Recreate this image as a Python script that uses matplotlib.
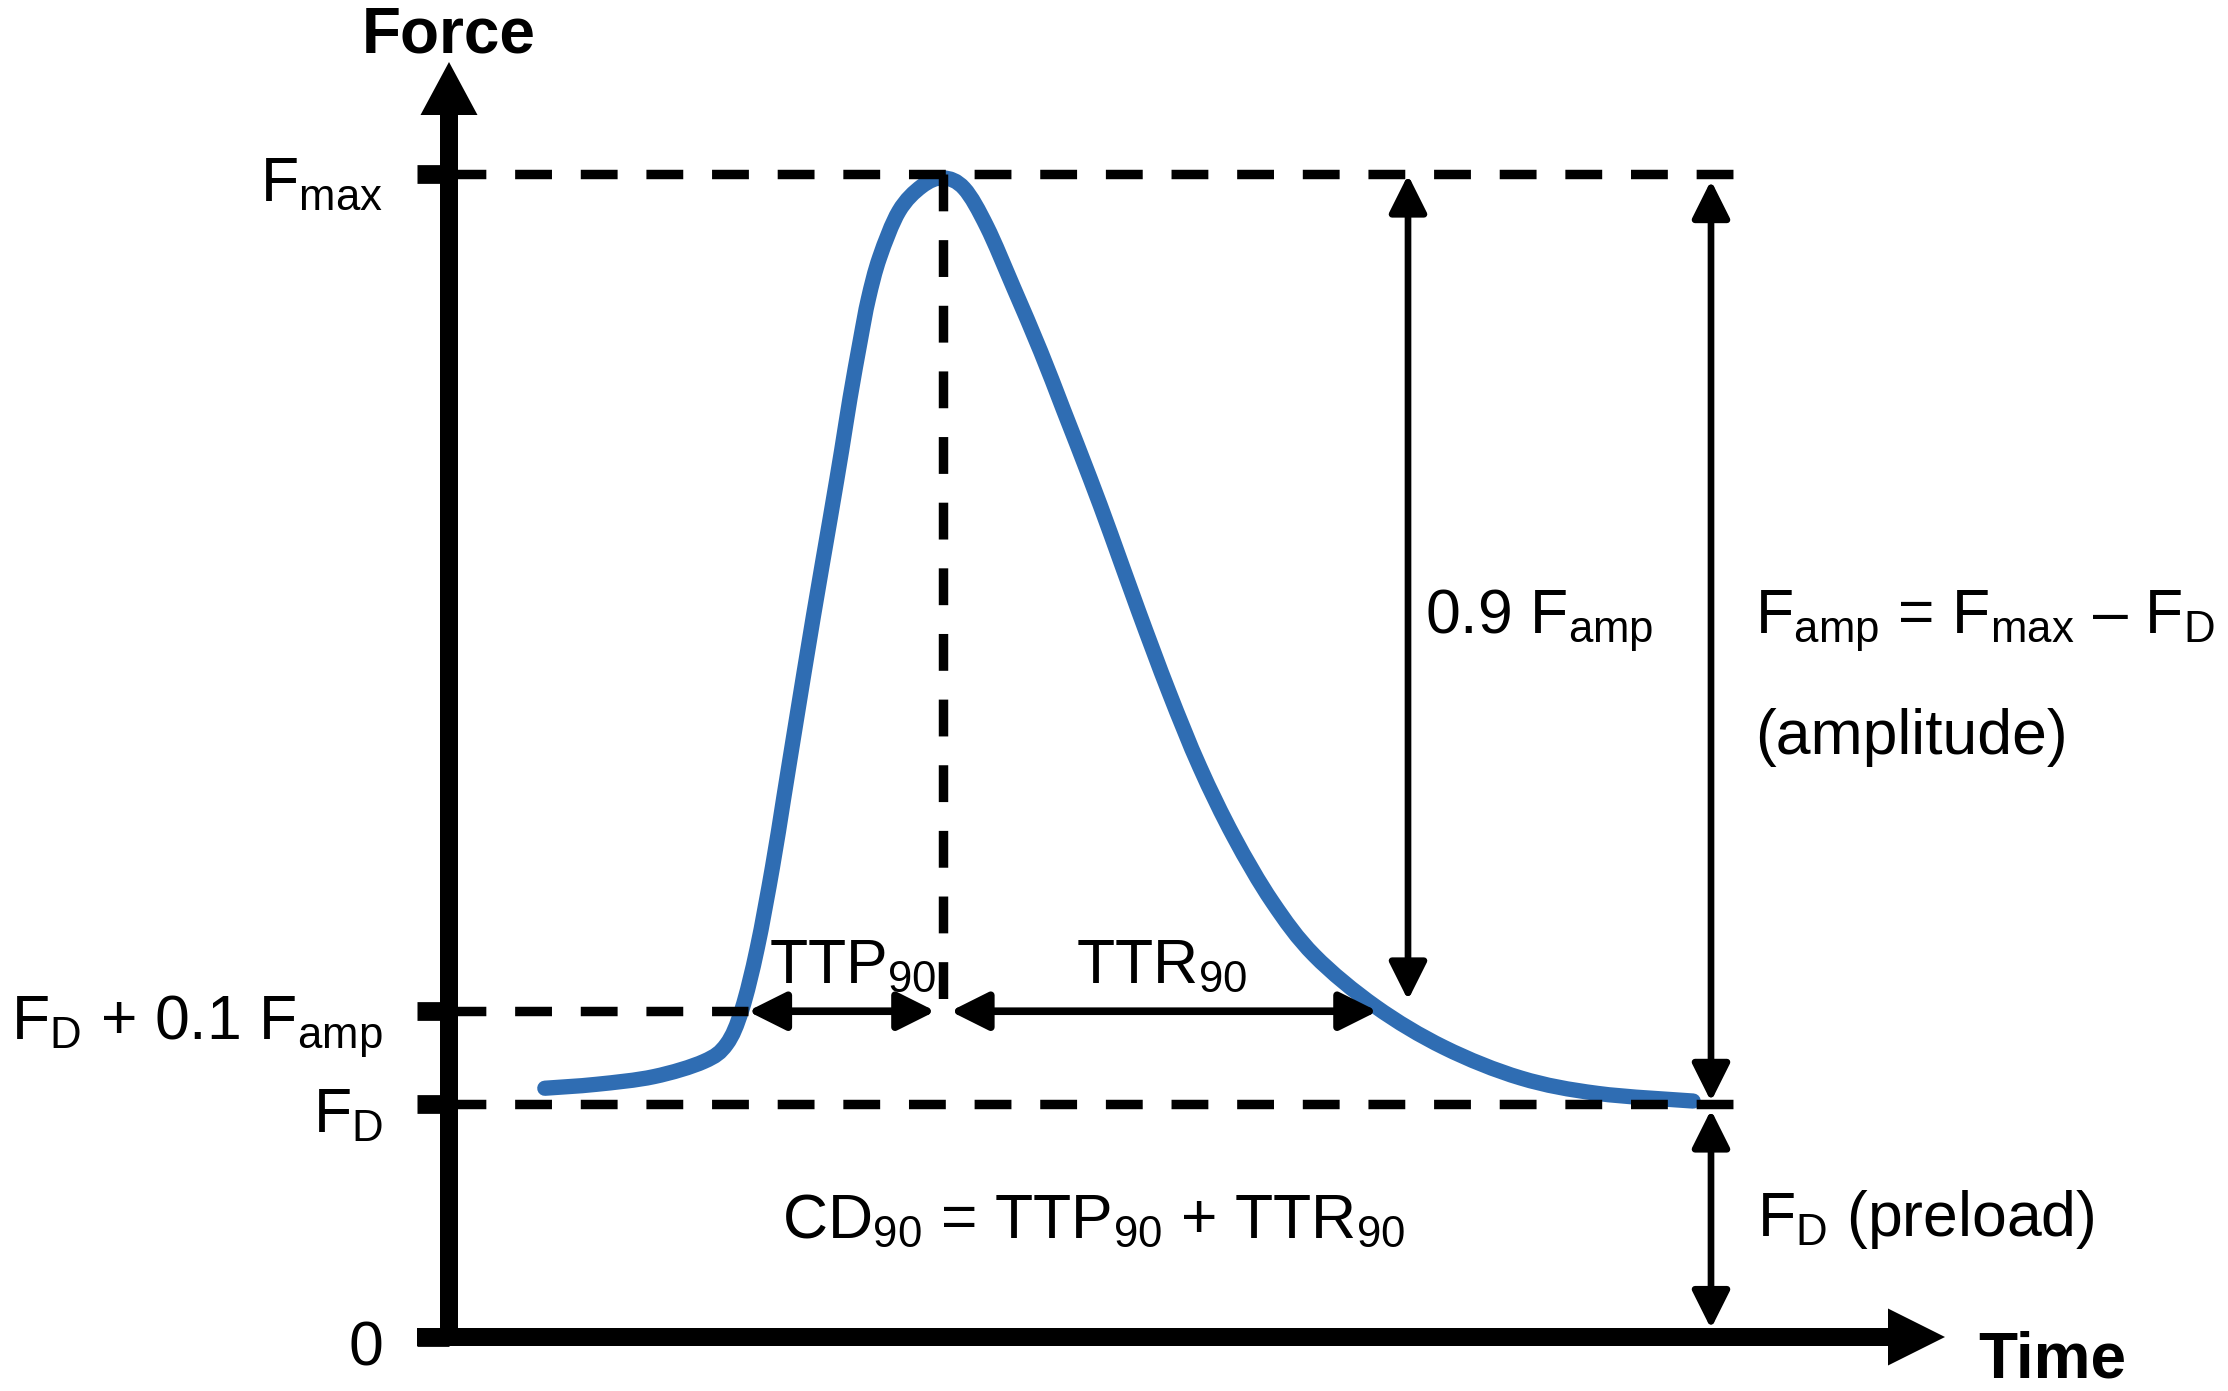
import matplotlib.pyplot as plt
from matplotlib.path import Path
from matplotlib.patches import PathPatch

plt.rcParams['font.family'] = ['Liberation Sans', 'DejaVu Sans']
plt.rcParams['mathtext.fontset'] = 'custom'
plt.rcParams['mathtext.rm'] = 'Liberation Sans'
plt.rcParams['mathtext.default'] = 'regular'

# Twitch trace (time in arbitrary units, force in units of F_D)
time = [1.94, 2.99, 4.15, 5.16, 5.62, 5.93, 6.24, 6.55, 6.78, 7.02, 7.38,
        7.72, 7.95, 8.12, 8.33, 8.49, 8.72, 9.11, 9.57, 10.00,
        10.43, 10.89, 11.43, 11.98, 12.44, 12.98, 13.40, 13.96, 14.58, 15.20,
        15.89, 16.67, 17.52, 18.76, 20.15, 21.70, 23.25, 25.19]
force = [1.069, 1.086, 1.119, 1.184, 1.258, 1.407, 1.670, 2.020, 2.320, 2.635, 3.100,
         3.520, 3.810, 4.035, 4.285, 4.460, 4.640, 4.838, 4.945, 4.981,
         4.936, 4.772, 4.510, 4.235, 3.985, 3.690, 3.450, 3.120, 2.770, 2.450,
         2.150, 1.870, 1.640, 1.420, 1.244, 1.113, 1.047, 1.014]

# characteristic levels and times
F_D = 1.0
F_max = 5.0
F_amp = F_max - F_D
F_10 = F_D + 0.1 * F_amp
t_10 = 6.05
t_peak = 10.0
t_90 = 18.8

level_values = [0, F_D, F_10, F_max]
level_labels = ['0', 'F$_{D}$', 'F$_{D}$ + 0.1 F$_{amp}$', 'F$_{max}$']

# ---- figure geometry (pixels) ----
W, H = 2228, 1391
X0, Y0 = 449, 1337          # where t=0 / F=0 sit in the picture
PX_T, PX_F = 49.39, 232.7   # pixels per time unit / per force unit

def dx(px):
    return px / PX_T

def dy(px):
    return px / PX_F

fig = plt.figure(figsize=(W / 100, H / 100), dpi=100)
ax = fig.add_axes([0, 0, 1, 1])
ax.set_xlim(-X0 / PX_T, (W - X0) / PX_T)
ax.set_ylim((Y0 - H) / PX_F, Y0 / PX_F)
ax.axis('off')

FS = 45
blue = '#2f6db3'

# trace, drawn as a smooth curve through the read points (Catmull-Rom -> Bezier)
pts = list(zip(time, force))
verts = [pts[0]]
codes = [Path.MOVETO]
for i in range(len(pts) - 1):
    p0 = pts[i - 1] if i > 0 else pts[i]
    p1 = pts[i]
    p2 = pts[i + 1]
    p3 = pts[i + 2] if i + 2 < len(pts) else pts[i + 1]
    c1 = (p1[0] + (p2[0] - p0[0]) / 6, p1[1] + (p2[1] - p0[1]) / 6)
    c2 = (p2[0] - (p3[0] - p1[0]) / 6, p2[1] - (p3[1] - p1[1]) / 6)
    verts += [c1, c2, p2]
    codes += [Path.CURVE4] * 3
ax.add_patch(PathPatch(Path(verts, codes), fill=False, edgecolor=blue, lw=11,
                       capstyle='round', joinstyle='round', zorder=2))

# dashed guide lines
dash = dict(color='black', lw=6.8, linestyle=(0, (3.9, 3.05)), zorder=3)
t_end = dx(1750 - X0)
ax.plot([0, t_end], [F_max, F_max], **dash)
ax.plot([0, t_end], [F_D, F_D], **dash)
ax.plot([0, t_10], [F_10, F_10], **dash)
ax.plot([t_peak, t_peak], [F_max, F_10], **dash)

# axes with arrow heads
ax.arrow(0, -dy(9), 0, dy(Y0 - 62) + dy(9), width=dx(18), head_width=dx(57), head_length=dy(53),
         length_includes_head=True, lw=0, color='black', zorder=4)
ax.arrow(-dx(32), 0, dx(1945 - X0) + dx(32), 0, width=dy(18), head_width=dy(57), head_length=dx(57),
         length_includes_head=True, lw=0, color='black', zorder=4)

# tick stubs and labels
for val, lab in zip(level_values, level_labels):
    ax.plot([-dx(32), 0], [val, val], color='black', lw=13.5, solid_capstyle='butt', zorder=4)
    ax.text(-dx(66), val - dy(28), lab, fontsize=FS, ha='right', va='baseline')

ax.text(0, dy(Y0 - 52), 'Force', fontsize=46, fontweight='bold', ha='center', va='baseline')
ax.text(dx(1978 - X0), -dy(41), 'Time', fontsize=46, fontweight='bold', ha='left', va='baseline')

# measurement arrows
def dbl_arrow(x0, y0, x1, y1, lw=4.8, sA=0, sB=0):
    ax.annotate('', xy=(x1, y1), xytext=(x0, y0),
                arrowprops=dict(arrowstyle='<|-|>,head_length=23,head_width=11.5', mutation_scale=1,
                                lw=lw, color='black', shrinkA=sA, shrinkB=sB), zorder=5)

gap = 0.15
dbl_arrow(t_10, F_10, t_peak - gap, F_10, lw=5.5)
dbl_arrow(t_peak + gap, F_10, t_90, F_10, lw=5.5)

t_09 = dx(1408 - X0)
t_amp = dx(1711 - X0)
dbl_arrow(t_09, F_max, t_09, F_10, sA=1, sB=8)
dbl_arrow(t_amp, F_max, t_amp, F_D, sA=5, sB=2)
dbl_arrow(t_amp, F_D, t_amp, 0, sA=4, sB=6)

# annotations
ax.text(dx(769 - X0), dy(Y0 - 983), 'TTP$_{90}$', fontsize=FS, ha='left', va='baseline')
ax.text(dx(1076 - X0), dy(Y0 - 983), 'TTR$_{90}$', fontsize=FS, ha='left', va='baseline')
ax.text(dx(1425 - X0), dy(Y0 - 633), '0.9 F$_{amp}$', fontsize=FS, ha='left', va='baseline')
ax.text(dx(1755 - X0), dy(Y0 - 633), 'F$_{amp}$ = F$_{max}$ – F$_{D}$', fontsize=FS, ha='left', va='baseline')
ax.text(dx(1755 - X0), dy(Y0 - 754), '(amplitude)', fontsize=FS, ha='left', va='baseline')
ax.text(dx(1757 - X0), dy(Y0 - 1236), 'F$_{D}$ (preload)', fontsize=FS, ha='left', va='baseline')
ax.text(dx(782 - X0), dy(Y0 - 1238), 'CD$_{90}$ = TTP$_{90}$ + TTR$_{90}$', fontsize=FS, ha='left', va='baseline')

fig.savefig('out.png', dpi=100)
